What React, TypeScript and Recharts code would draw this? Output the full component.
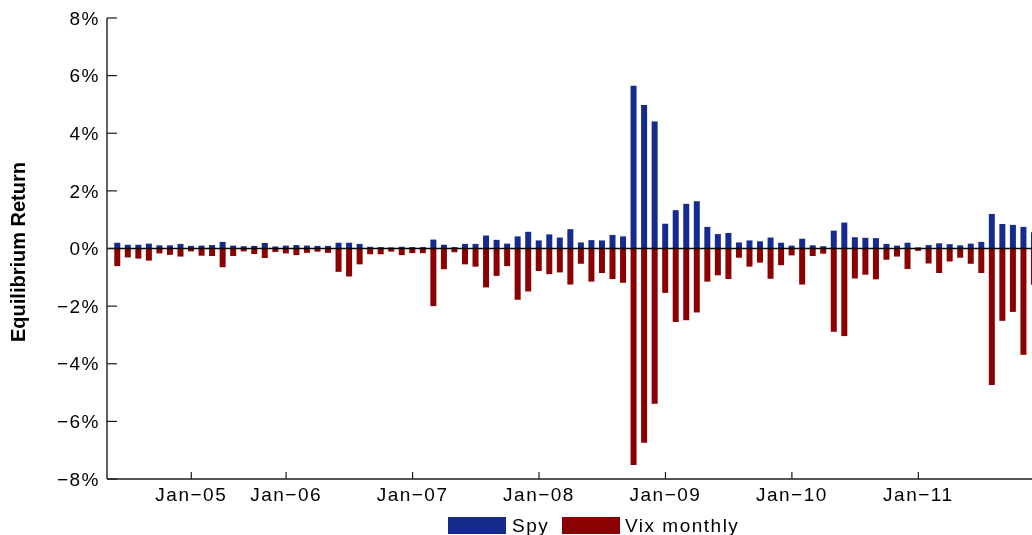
import React from 'react';
import { BarChart, Bar, XAxis, YAxis, ReferenceLine, Legend } from 'recharts';

const spy = [
  0.20, 0.13, 0.13, 0.17, 0.11, 0.11, 0.16, 0.09, 0.10, 0.12,
  0.23, 0.10, 0.08, 0.09, 0.19, 0.07, 0.10, 0.12, 0.10, 0.09,
  0.09, 0.20, 0.20, 0.16, 0.06, 0.05, 0.04, 0.06, 0.05, 0.05,
  0.31, 0.13, 0.05, 0.16, 0.16, 0.45, 0.30, 0.17, 0.42, 0.58,
  0.28, 0.49, 0.38, 0.67, 0.21, 0.29, 0.28, 0.47, 0.42, 5.65,
  4.98, 4.41, 0.86, 1.33, 1.55, 1.64, 0.75, 0.50, 0.54, 0.21,
  0.28, 0.25, 0.38, 0.20, 0.10, 0.34, 0.11, 0.08, 0.62, 0.90,
  0.39, 0.37, 0.36, 0.16, 0.10, 0.20, 0.04, 0.12, 0.18, 0.15,
  0.11, 0.17, 0.23, 1.20, 0.85, 0.82, 0.75, 0.56,
];

const vixMonthly = [
  -0.61, -0.31, -0.35, -0.42, -0.17, -0.22, -0.28, -0.10, -0.25, -0.26,
  -0.65, -0.26, -0.10, -0.19, -0.33, -0.12, -0.17, -0.23, -0.15, -0.11,
  -0.15, -0.81, -0.97, -0.55, -0.20, -0.20, -0.11, -0.23, -0.16, -0.16,
  -2.00, -0.72, -0.13, -0.55, -0.63, -1.35, -0.95, -0.61, -1.78, -1.49,
  -0.78, -0.89, -0.83, -1.25, -0.53, -1.15, -0.85, -1.06, -1.19, -7.51,
  -6.74, -5.39, -1.54, -2.55, -2.49, -2.22, -1.15, -0.93, -1.06, -0.32,
  -0.63, -0.49, -1.05, -0.58, -0.24, -1.25, -0.26, -0.18, -2.89, -3.04,
  -1.04, -0.91, -1.07, -0.39, -0.28, -0.71, -0.08, -0.52, -0.85, -0.45,
  -0.32, -0.53, -0.85, -4.74, -2.51, -2.20, -3.69, -1.26,
];

const tickIdx = [7, 16, 28, 40, 52, 64, 76];
const tickLabels = ['Jan\u221205', 'Jan\u221206', 'Jan\u221207', 'Jan\u221208', 'Jan\u221209', 'Jan\u221210', 'Jan\u221211'];
const yTicks = [-8, -6, -4, -2, 0, 2, 4, 6, 8];

const data = spy.map((s, i) => ({ i, spy: s, vix: vixMonthly[i] }));

const FONT = '"Liberation Sans", Arial, Helvetica, sans-serif';
const AX = '#1c1c1c';
const BLUE = '#152B8D';
const RED = '#8B0000';

function fmtPct(v: number) {
  return v < 0 ? `\u2212${-v}%` : `${v}%`;
}

function BottomTick(props: any) {
  const { x, y, payload } = props;
  const k = tickIdx.indexOf(payload.value);
  return (
    <g>
      <line x1={x} y1={y} x2={x} y2={y - 7} stroke={AX} strokeWidth={1.2} />
      <text x={x} y={y + 15} dy="0.35em" textAnchor="middle" fontFamily={FONT} fontSize={19} letterSpacing={1.5} fill="#000">
        {tickLabels[k]}
      </text>
    </g>
  );
}

function TopTick(props: any) {
  const { x, y } = props;
  return <line x1={x} y1={y} x2={x} y2={y + 7} stroke={AX} strokeWidth={1.2} />;
}

function LeftTick(props: any) {
  const { x, y, payload } = props;
  return (
    <g>
      <line x1={x} y1={y} x2={x + 10} y2={y} stroke={AX} strokeWidth={1.2} />
      <text x={x - 7} y={y} dy="0.35em" textAnchor="end" fontFamily={FONT} fontSize={19} letterSpacing={1.5} fill="#000">
        {fmtPct(payload.value)}
      </text>
    </g>
  );
}

function YLabel(props: any) {
  const vb = props.viewBox || { x: 0, y: 10, width: 99, height: 461 };
  const cx = vb.x + 17;
  const cy = vb.y + vb.height / 2 + 3.5;
  return (
    <text x={cx} y={cy} transform={`rotate(-90, ${cx}, ${cy})`} textAnchor="middle" fontFamily={FONT} fontSize={20} fontWeight="bold" fill="#000">
      Equilibrium Return
    </text>
  );
}

function LegendContent(props: any) {
  const payload = props.payload || [];
  const pos = [
    { box: 0, text: 64 },
    { box: 114, text: 177 },
  ];
  return (
    <div style={{ position: 'relative', width: 320, height: 20 }}>
      {payload.map((p: any, k: number) => (
        <React.Fragment key={k}>
          <div style={{ position: 'absolute', left: pos[k].box, top: 0, width: 58, height: 17, background: p.color }} />
          <span style={{ position: 'absolute', left: pos[k].text, top: -2.5, fontFamily: FONT, fontSize: 19, letterSpacing: 1.5, color: '#000', whiteSpace: 'nowrap', lineHeight: 'normal' }}>
            {p.value}
          </span>
        </React.Fragment>
      ))}
    </div>
  );
}

export default function App() {
  return (
    <div style={{ position: 'fixed', top: 8, left: 8, width: 1024, height: 527, overflow: 'hidden' }}>
      <BarChart
        width={1100}
        height={527}
        data={data}
        stackOffset="sign"
        barSize={6}
        margin={{ top: 10, right: 0, bottom: 0, left: 0 }}
        style={{ fontFamily: FONT }}
      >
        <XAxis
          dataKey="i"
          type="number"
          domain={[-1, 94]}
          allowDataOverflow
          ticks={tickIdx}
          interval={0}
          height={56}
          tickSize={0}
          tickMargin={0}
          tickLine={false}
          axisLine={{ stroke: AX, strokeWidth: 1.4 }}
          tick={<BottomTick />}
        />
        <XAxis
          xAxisId="top"
          dataKey="i"
          type="number"
          orientation="top"
          domain={[-1, 94]}
          allowDataOverflow
          ticks={tickIdx}
          interval={0}
          height={0}
          tickSize={0}
          tickMargin={0}
          tickLine={false}
          axisLine={{ stroke: AX, strokeWidth: 1.4 }}
          tick={<TopTick />}
        />
        <YAxis
          type="number"
          domain={[-8, 8]}
          ticks={yTicks}
          interval={0}
          width={99}
          tickSize={0}
          tickMargin={0}
          tickLine={false}
          axisLine={{ stroke: AX, strokeWidth: 1.4 }}
          tick={<LeftTick />}
          label={{ content: (p: any) => <YLabel {...p} /> }}
        />
        <Bar dataKey="spy" name="Spy" stackId="a" fill={BLUE} isAnimationActive={false} />
        <Bar dataKey="vix" name="Vix monthly" stackId="a" fill={RED} isAnimationActive={false} />
        <ReferenceLine y={0} stroke="#000" strokeWidth={1.3} />
        <Legend
          verticalAlign="middle"
          align="center"
          layout="horizontal"
          wrapperStyle={{ top: 509, left: 440, width: 320, height: 20 }}
          content={<LegendContent />}
        />
      </BarChart>
    </div>
  );
}
